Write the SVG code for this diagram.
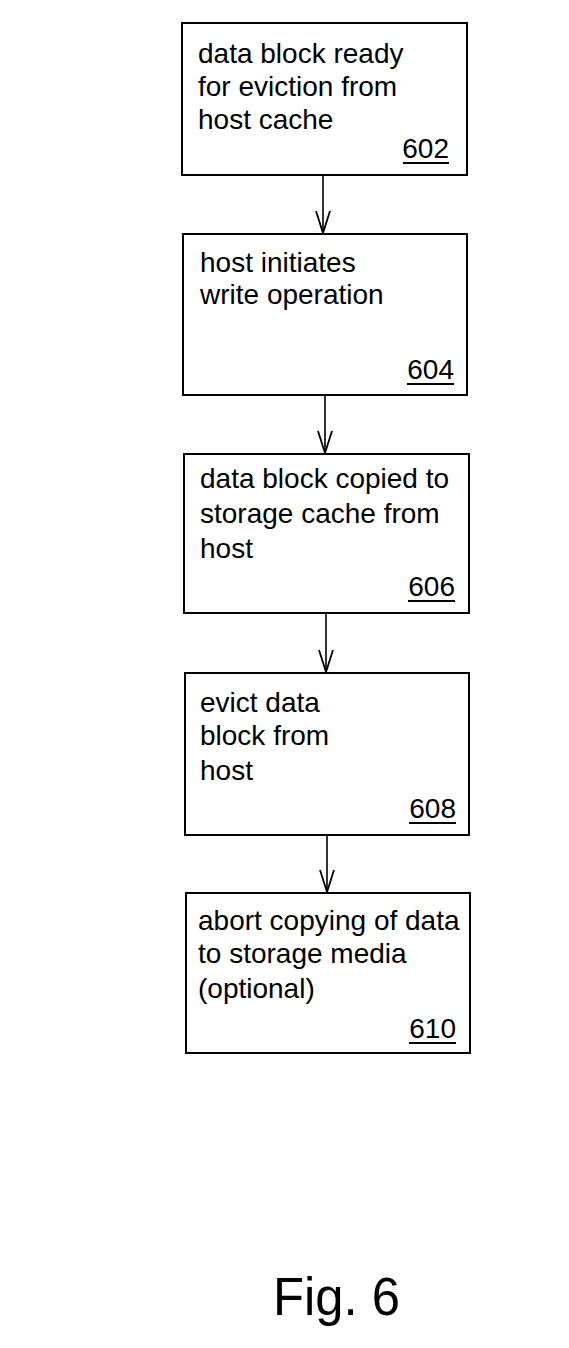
<svg xmlns="http://www.w3.org/2000/svg" width="569" height="1348" viewBox="0 0 569 1348">
<style>
.box{fill:#fff;stroke:#000;stroke-width:2}
.t{font-family:"Liberation Sans",Arial,sans-serif;font-size:28px;fill:#000}
.n{font-family:"Liberation Sans",Arial,sans-serif;font-size:28px;fill:#000;text-anchor:end}
.u{stroke:#000;stroke-width:2}
.c{stroke:#000;stroke-width:1.6;fill:none}
</style>
<defs>
<marker id="ah" markerUnits="userSpaceOnUse" markerWidth="26" markerHeight="18" refX="23" refY="8" orient="auto" viewBox="0 0 26 16">
<path d="M1,1 L23,8 L1,15" fill="none" stroke="#000" stroke-width="1.8"/>
</marker>
</defs>
<rect width="569" height="1348" fill="#fff"/>
<g id="connectors">
<line class="c" x1="323" y1="175" x2="323" y2="233" marker-end="url(#ah)"/>
<line class="c" x1="325" y1="395" x2="325" y2="453" marker-end="url(#ah)"/>
<line class="c" x1="326" y1="613" x2="326" y2="672" marker-end="url(#ah)"/>
<line class="c" x1="327" y1="835" x2="327" y2="892" marker-end="url(#ah)"/>
</g>
<g id="n602">
<rect class="box" x="182" y="23" width="285" height="152"/>
<text class="t" x="198" y="63">data block ready</text>
<text class="t" x="198" y="96">for eviction from</text>
<text class="t" x="198" y="129">host cache</text>
<text class="n" x="449" y="158">602</text>
<line class="u" x1="403" y1="163" x2="449" y2="163"/>
</g>
<g id="n604">
<rect class="box" x="183" y="234" width="284" height="161"/>
<text class="t" x="200" y="272">host initiates</text>
<text class="t" x="200" y="304">write operation</text>
<text class="n" x="454" y="379">604</text>
<line class="u" x1="407" y1="384" x2="454" y2="384"/>
</g>
<g id="n606">
<rect class="box" x="184" y="454" width="285" height="159"/>
<text class="t" x="200" y="488">data block copied to</text>
<text class="t" x="200" y="523">storage cache from</text>
<text class="t" x="200" y="558">host</text>
<text class="n" x="455" y="596">606</text>
<line class="u" x1="408" y1="601" x2="455" y2="601"/>
</g>
<g id="n608">
<rect class="box" x="185" y="673" width="284" height="162"/>
<text class="t" x="200" y="712">evict data</text>
<text class="t" x="200" y="745">block from</text>
<text class="t" x="200" y="780">host</text>
<text class="n" x="456" y="818">608</text>
<line class="u" x1="409" y1="823" x2="456" y2="823"/>
</g>
<g id="n610">
<rect class="box" x="186" y="893" width="284" height="160"/>
<text class="t" x="198" y="930">abort copying of data</text>
<text class="t" x="198" y="963">to storage media</text>
<text class="t" x="198" y="998">(optional)</text>
<text class="n" x="456" y="1038">610</text>
<line class="u" x1="409" y1="1043" x2="456" y2="1043"/>
</g>
<text x="273" y="1315" font-family="&quot;Liberation Sans&quot;,Arial,sans-serif" font-size="54" textLength="127" lengthAdjust="spacingAndGlyphs" fill="#000">Fig. 6</text>
</svg>
